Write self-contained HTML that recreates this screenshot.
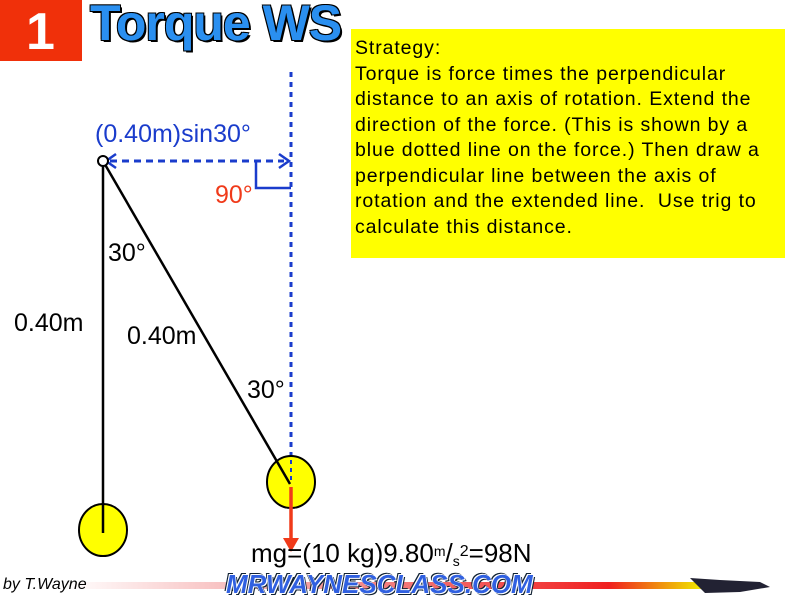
<!DOCTYPE html>
<html><head><style>
body{margin:0;width:800px;height:600px;background:#fff;position:relative;overflow:hidden;font-family:"Liberation Sans",sans-serif}
.t{position:absolute;white-space:nowrap}
</style></head><body>
<div style="position:absolute;left:0;top:0;width:82px;height:61px;background:#f0300a"></div>
<div class="t" style="left:26px;top:2px;font-size:52px;font-weight:bold;color:#fff">1</div>
<div class="t" style="left:90px;top:-6px;font-size:50px;font-weight:900;color:#2a8ff0;text-shadow:2px 2px 0 #000,-1px -1px 0 #000,1px -1px 0 #000,-1px 1px 0 #000;letter-spacing:-1px">Torque WS</div>
<div style="position:absolute;left:351px;top:29px;width:434px;height:229px;background:#ffff00"></div>
<div class="t" style="left:355px;top:36px;font-size:19.5px;line-height:25.5px;color:#000;letter-spacing:0.9px">Strategy:<br>Torque is force times the perpendicular<br>distance to an axis of rotation. Extend the<br>direction of the force. (This is shown by a<br>blue dotted line on the force.) Then draw a<br>perpendicular line between the axis of<br>rotation and the extended line.&nbsp; Use trig to<br>calculate this distance.</div>
<svg width="800" height="600" style="position:absolute;left:0;top:0">
<line x1="291" y1="72" x2="291" y2="482" stroke="#1a3ccc" stroke-width="3" stroke-dasharray="5,5"/>
<line x1="110" y1="161" x2="284" y2="161" stroke="#1a3ccc" stroke-width="3" stroke-dasharray="7,5"/>
<polyline points="116,154 106,161 116,168" fill="none" stroke="#1a3ccc" stroke-width="2.5"/>
<polyline points="279,154 289,161 279,168" fill="none" stroke="#1a3ccc" stroke-width="2.5"/>
<polyline points="256,162 256,188 291,188" fill="none" stroke="#1a3ccc" stroke-width="2.5"/>
<line x1="103" y1="161" x2="103" y2="533" stroke="#000" stroke-width="2.5"/>
<ellipse cx="103" cy="530" rx="24" ry="26" fill="#ffff00" stroke="#000" stroke-width="2"/>
<line x1="103" y1="533" x2="103" y2="504" stroke="#000" stroke-width="2.5"/>
<ellipse cx="291" cy="482" rx="24" ry="26" fill="#ffff00" stroke="#000" stroke-width="2"/>
<line x1="291" y1="460" x2="291" y2="482" stroke="#1a3ccc" stroke-width="2" stroke-dasharray="4,4"/>
<line x1="103" y1="161" x2="290" y2="484" stroke="#000" stroke-width="2.5"/>
<circle cx="103" cy="161" r="5" fill="#fff" stroke="#000" stroke-width="2"/>
<line x1="291" y1="487" x2="291" y2="540" stroke="#f03a1a" stroke-width="3.5"/>
<polygon points="283,538 299,538 291,552" fill="#f03a1a"/>
<defs><linearGradient id="g" x1="0" x2="1"><stop offset="0" stop-color="#fff"/><stop offset="0.3" stop-color="#f6b0b0"/><stop offset="0.8" stop-color="#f02020"/><stop offset="0.93" stop-color="#f0e000"/><stop offset="1" stop-color="#fff"/></linearGradient></defs>
<rect x="65" y="582" width="680" height="7" fill="url(#g)"/>
<path d="M690 578 L720 580 L760 582 L770 587 L740 592 L705 593 Z" fill="#223" />
</svg>
<div class="t" style="left:95px;top:120px;font-size:25px;color:#1a3ccc">(0.40m)sin30°</div>
<div class="t" style="left:215px;top:181px;font-size:25px;color:#f03a1a">90°</div>
<div class="t" style="left:108px;top:239px;font-size:25px">30°</div>
<div class="t" style="left:14px;top:309px;font-size:25px">0.40m</div>
<div class="t" style="left:127px;top:322px;font-size:25px">0.40m</div>
<div class="t" style="left:247px;top:376px;font-size:25px">30°</div>
<div class="t" style="left:251px;top:538px;font-size:26px">mg=(10 kg)9.80<span style="font-size:14px;vertical-align:6px">m</span>/<span style="font-size:14px;vertical-align:-4px">s</span><span style="font-size:16px;vertical-align:6px">2</span>=98N</div>
<div class="t" style="left:3px;top:576px;font-size:16px;font-style:italic">by T.Wayne</div>
<div class="t" style="left:226px;top:569px;font-size:26px;font-weight:900;font-style:italic;color:#3060e0;text-shadow:1px 1px 0 #fff,-1px -1px 0 #fff,2px 2px 0 #123,-2px -2px 0 #123;letter-spacing:0px">MRWAYNESCLASS.COM</div>
</body></html>
